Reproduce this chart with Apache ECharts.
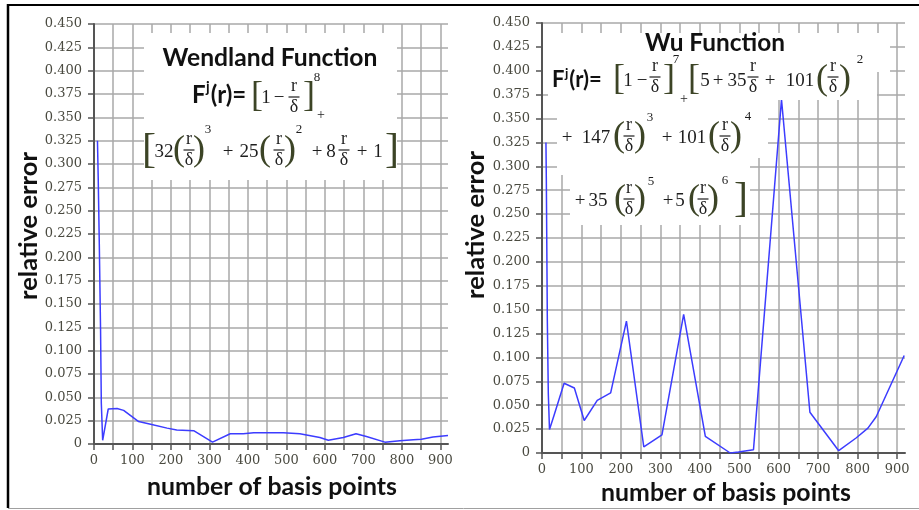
<!DOCTYPE html>
<html>
<head>
<meta charset="utf-8">
<script src="https://cdn.jsdelivr.net/npm/echarts@6/dist/echarts.min.js"></script>
<style>
  html, body { margin: 0; padding: 0; background: #fff; }
  #chart { width: 919px; height: 510px; }
</style>
</head>
<body>
<div id="chart"></div>
<script>
// Relative interpolation error against the number of basis points
// for two compactly supported radial basis functions.

// Wendland function
const wendlandBasis = [9, 11, 14, 17, 19, 22.5, 37, 60, 77, 103, 116, 150, 190, 215, 259, 308, 354, 388, 415, 492, 535, 587, 609, 648, 681, 708, 756, 795, 830, 851, 881, 920];
const wendlandError = [0.325, 0.284, 0.208, 0.124, 0.044, 0.004, 0.0375, 0.038, 0.036, 0.028, 0.024, 0.021, 0.017, 0.015, 0.0143, 0.002, 0.011, 0.011, 0.012, 0.012, 0.011, 0.007, 0.004, 0.007, 0.011, 0.008, 0.002, 0.0036, 0.0046, 0.005, 0.0075, 0.009];

// Wu function
const wuBasis = [10, 11, 13.5, 16, 19, 31, 56, 82, 107, 140, 174, 214, 258, 304, 359, 414, 477, 498, 536, 607, 679, 752, 796, 826, 847, 918];
const wuError = [0.325, 0.285, 0.139, 0.062, 0.0245, 0.040, 0.073, 0.068, 0.034, 0.055, 0.063, 0.138, 0.0063, 0.019, 0.145, 0.0175, 0.0, 0.001, 0.0035, 0.370, 0.0426, 0.0024, 0.0157, 0.026, 0.038, 0.102];

// Axis ranges
const xRange = { min: 0, max: 920, step: 50, labelStep: 100 };
const yRange = { min: 0, max: 0.45, step: 0.025 };

const SERIF = '"DejaVu Serif", serif';
const MATH = '"Liberation Serif", serif';
const SANS = 'Lato, "Open Sans", sans-serif';
const INK = '#1e1e1e';
const BRACKET = '#3c4426';
const TICK_TEXT = '#4a4a40';

const measureCtx = document.createElement('canvas').getContext('2d');
function textWidth(s, size, family, weight) {
  measureCtx.font = (weight || 'normal') + ' ' + size + 'px ' + family;
  return measureCtx.measureText(s).width;
}
// font size that makes a bold sans string span the given width
function fitSize(s, width) {
  return width / textWidth(s, 100, SANS, 'bold') * 100;
}

const elements = [];

function panel(x, y, w, h) {
  elements.push({ type: 'rect', z: 50, silent: true, shape: { x, y, width: w, height: h }, style: { fill: '#ffffff' } });
}
function T(x, y, s, o) {
  o = o || {};
  elements.push({
    type: 'text', x, y, z: 60, silent: true, rotation: o.r || 0,
    style: {
      text: s, fontFamily: o.f || MATH, fontSize: o.s || 19, fontWeight: o.w || 'normal',
      fill: o.c || INK, align: o.a || 'center', verticalAlign: 'middle'
    }
  });
}
// r over delta with a fraction bar at yBar
function frac(x, yBar) {
  const s = 18;
  T(x, yBar - s * 0.58, 'r', { s });
  T(x, yBar + s * 0.55, 'δ', { s });
  elements.push({ type: 'line', z: 60, silent: true, shape: { x1: x - 5.5, y1: yBar, x2: x + 5.5, y2: yBar }, style: { stroke: INK, lineWidth: 1.2 } });
}
function lbr(x, y, s) { T(x, y, '[', { s, c: BRACKET }); }
function rbr(x, y, s) { T(x, y, ']', { s, c: BRACKET }); }
function lp(x, y) { T(x, y, '(', { s: 36, c: BRACKET }); }
function rp(x, y) { T(x, y, ')', { s: 36, c: BRACKET }); }
function sup(x, y, s) { T(x, y, s, { s: 13 }); }
// "F^j(r)=" starting at xLeft
function lhs(xLeft, y, size) {
  const wF = textWidth('F', size, SANS, 'bold');
  T(xLeft, y, 'F', { f: SANS, w: 'bold', s: size, a: 'left', c: '#111' });
  T(xLeft + wF + 0.5, y - size * 0.3, 'j', { f: SANS, w: 'bold', s: size * 0.6, a: 'left', c: '#111' });
  const wj = textWidth('j', size * 0.6, SANS, 'bold');
  T(xLeft + wF + wj + 1.5, y, '(r)=', { f: SANS, w: 'bold', s: size, a: 'left', c: '#111' });
}

// ---- Wendland formula block ----
panel(144, 33, 253, 147);
T(270, 58, 'Wendland Function', { f: SANS, w: 'bold', s: fitSize('Wendland Function', 215), c: '#111' });
lhs(192, 95, 24);
lbr(257, 97, 36); T(266, 98, '1'); T(279, 98, '−');
frac(294, 97);
rbr(309, 97, 36); sup(317, 78, '8'); T(321, 115, '+', { s: 14 });
lbr(149, 151, 42); T(164, 152, '32'); lp(179, 151); frac(189, 150); rp(199, 151); sup(208, 130, '3');
T(228, 152, '+'); T(249, 152, '25'); lp(265, 151); frac(279, 150); rp(290, 151); sup(299, 130, '2');
T(317, 152, '+'); T(331, 152, '8'); frac(344, 150); T(362, 152, '+'); T(378, 152, '1'); rbr(392, 151, 42);

// ---- Wu formula block ----
panel(543, 33, 347, 39);
panel(548, 60, 329, 40);
panel(557, 100, 211, 58);
panel(557, 158, 193, 17);
panel(570, 175, 180, 50);
T(715, 43, 'Wu Function', { f: SANS, w: 'bold', s: fitSize('Wu Function', 140), c: '#111' });
lhs(552, 80, 22);
lbr(619, 80, 36); T(628, 81, '1'); T(642, 81, '−'); frac(655, 77); rbr(669, 80, 36);
sup(676, 60, '7'); T(684, 99, '+', { s: 14 });
lbr(694, 80, 36); T(705, 81, '5'); T(718, 81, '+'); T(737, 81, '35'); frac(753, 77);
T(770, 81, '+'); T(800, 81, '101'); lp(822, 80); frac(833, 77); rp(845, 80); sup(860, 60, '2');
T(567, 138, '+'); T(596, 138, '147'); lp(619, 137); frac(629, 136); rp(640, 137); sup(650, 118, '3');
T(667, 138, '+'); T(692, 138, '101'); lp(714, 137); frac(725, 136); rp(736, 137); sup(748, 117, '4');
T(580, 201, '+'); T(598, 201, '35'); lp(620, 200); frac(629, 199); rp(640, 200); sup(651, 182, '5');
T(668, 201, '+'); T(680, 201, '5'); lp(694, 200); frac(703, 199); rp(713, 200); sup(725, 181, '6');
rbr(741, 200, 42);

// ---- Axis titles ----
const yTitleSize = fitSize('relative error', 148);
const xTitleSize = fitSize('number of basis points', 250);
T(29, 226, 'relative error', { f: SANS, w: 'bold', s: yTitleSize, c: '#111', r: Math.PI / 2 });
T(476, 225, 'relative error', { f: SANS, w: 'bold', s: yTitleSize, c: '#111', r: Math.PI / 2 });
T(272, 487, 'number of basis points', { f: SANS, w: 'bold', s: xTitleSize, c: '#111' });
T(726, 493, 'number of basis points', { f: SANS, w: 'bold', s: xTitleSize, c: '#111' });

// ---- Frame ----
elements.push({ type: 'line', z: 70, silent: true, shape: { x1: 7, y1: 5, x2: 919, y2: 5 }, style: { stroke: '#000', lineWidth: 2 } });
elements.push({ type: 'line', z: 70, silent: true, shape: { x1: 8, y1: 4, x2: 8, y2: 508 }, style: { stroke: '#000', lineWidth: 2.5 } });
elements.push({ type: 'line', z: 70, silent: true, shape: { x1: 8, y1: 508.5, x2: 919, y2: 508.5 }, style: { stroke: '#a0a0a0', lineWidth: 1 } });

function xAxisFor(gridIndex) {
  return {
    type: 'value', gridIndex, min: xRange.min, max: xRange.max, interval: xRange.step,
    axisLine: { show: true, onZero: false, lineStyle: { color: '#555', width: 2 } },
    axisTick: { show: true, length: 6, lineStyle: { color: '#555', width: 1.5 } },
    axisLabel: {
      margin: 10, color: TICK_TEXT, fontFamily: SERIF, fontSize: 13,
      showMaxLabel: false,
      formatter: v => (v % xRange.labelStep === 0 ? String(v) : '')
    },
    splitLine: { show: true, showMaxLine: false, lineStyle: { color: '#a8a8a8', width: 1.5 } }
  };
}
function yAxisFor(gridIndex) {
  return {
    type: 'value', gridIndex, min: yRange.min, max: yRange.max, interval: yRange.step,
    axisLine: { show: true, onZero: false, lineStyle: { color: '#555', width: 2 } },
    axisTick: { show: true, length: 6, lineStyle: { color: '#555', width: 1.5 } },
    axisLabel: {
      margin: 12, color: TICK_TEXT, fontFamily: SERIF, fontSize: 13,
      formatter: v => (v === 0 ? '0' : v.toFixed(3))
    },
    splitLine: { show: true, lineStyle: { color: '#a8a8a8', width: 1.5 } }
  };
}

const chart = echarts.init(document.getElementById('chart'), null, { renderer: 'canvas' });
chart.setOption({
  animation: false,
  backgroundColor: '#ffffff',
  grid: [
    { left: 94, top: 24, width: 354, height: 420 },
    { left: 542, top: 23, width: 363, height: 430 }
  ],
  xAxis: [xAxisFor(0), xAxisFor(1)],
  yAxis: [yAxisFor(0), yAxisFor(1)],
  series: [
    {
      name: 'Wendland', type: 'line', xAxisIndex: 0, yAxisIndex: 0, showSymbol: false, z: 3,
      lineStyle: { color: '#3c3cff', width: 1.5 },
      data: wendlandBasis.map((x, i) => [x, wendlandError[i]])
    },
    {
      name: 'Wu', type: 'line', xAxisIndex: 1, yAxisIndex: 1, showSymbol: false, z: 3,
      lineStyle: { color: '#3c3cff', width: 1.5 },
      data: wuBasis.map((x, i) => [x, wuError[i]])
    }
  ],
  graphic: { elements }
});
</script>
</body>
</html>
